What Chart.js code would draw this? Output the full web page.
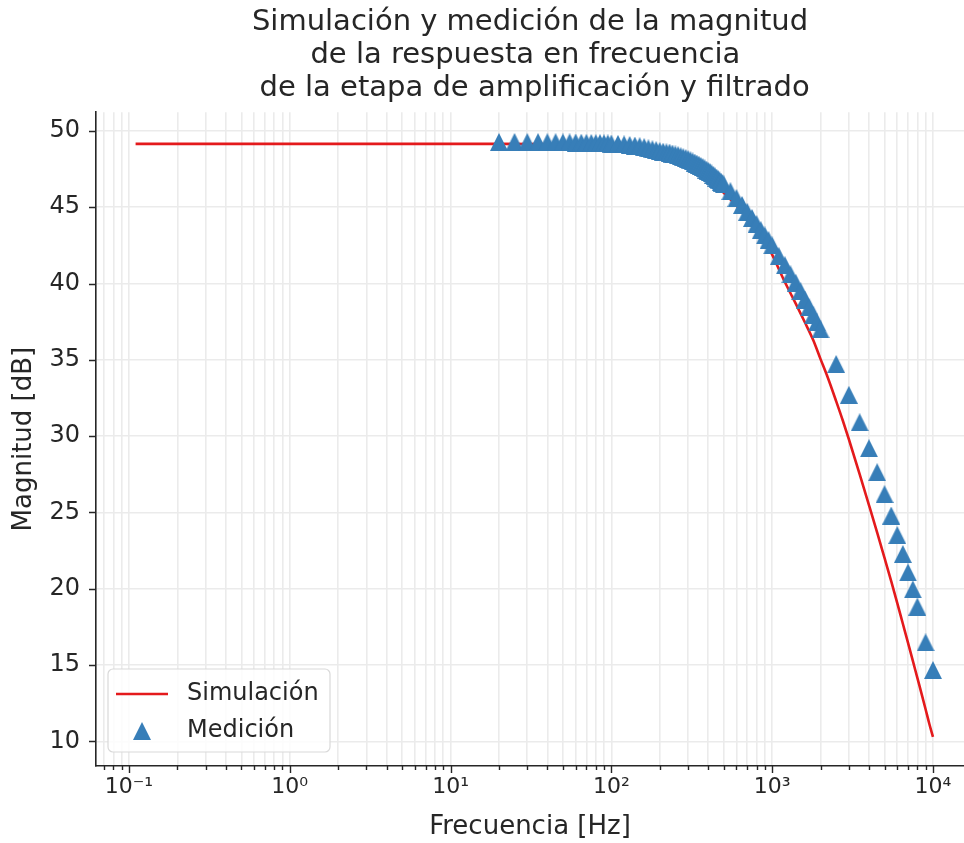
<!DOCTYPE html>
<html>
<head>
<meta charset="utf-8">
<script src="https://cdn.jsdelivr.net/npm/chart.js@4.4.0/dist/chart.umd.min.js"></script>
<style>
    html, body { margin: 0; padding: 0; background: #fff; }
</style>
</head>
<body>
<canvas id="bodeChart" width="964" height="843"></canvas>
<script>
// Simulación: frecuencia [Hz] y magnitud [dB]
const simFreq = [0.11, 0.2, 0.5, 1, 2, 5, 10, 20, 50, 100, 150, 200, 300, 400, 500, 600, 700, 800, 900, 1000,
    1200, 1400, 1600, 1800, 2000, 2200, 2500, 2750, 3000, 3500, 4000, 4500, 5000, 5500, 6000, 6500, 7000, 7500, 8000, 8500, 9000, 9500, 10000];
const simMag = [49.15, 49.15, 49.15, 49.15, 49.15, 49.15, 49.15, 49.15, 49.12, 49.0, 48.78, 48.5, 47.75, 46.85, 45.95, 45.1, 44.3, 43.55, 42.8, 41.9,
    40.1, 38.7, 37.45, 36.3, 35.05, 33.94, 32.3, 31.03, 29.8, 27.52, 25.49, 23.68, 22.02, 20.5, 19.06, 17.71, 16.46, 15.28, 14.16, 13.12, 12.11, 11.14, 10.3];

// Medición: frecuencia [Hz] y magnitud [dB]
const measFreq = [20, 25, 30, 35, 40, 45, 50, 55, 60, 65, 70, 75, 80, 85, 90, 95, 100,
    110, 120, 130, 140, 150, 160, 170, 180, 190, 200, 210, 220, 230, 240, 250, 260, 270, 280, 290, 300,
    310, 320, 330, 340, 350, 360, 370, 380, 390, 400, 410, 420, 430, 440, 450, 460, 470, 480, 490, 500,
    550, 600, 650, 700, 750, 800, 850, 900, 950, 1000,
    1100, 1200, 1300, 1400, 1500, 1600, 1700, 1800, 1900, 2000,
    2500, 3000, 3500, 4000, 4500, 5000, 5500, 6000, 6500, 7000, 7500, 8000, 9000, 10000];
const measMag = [49.28, 49.28, 49.27, 49.27, 49.26, 49.26, 49.25, 49.25, 49.24, 49.23, 49.22, 49.21, 49.20, 49.20, 49.19, 49.18, 49.17,
    49.15, 49.12, 49.08, 49.04, 49.00, 48.94, 48.86, 48.80, 48.74, 48.68, 48.64, 48.60, 48.58, 48.52, 48.46, 48.41, 48.34, 48.28, 48.22, 48.15,
    48.08, 48.00, 47.93, 47.86, 47.79, 47.71, 47.63, 47.55, 47.47, 47.39, 47.31, 47.22, 47.13, 47.04, 46.95, 46.86, 46.77, 46.68, 46.59, 46.50,
    46.05, 45.60, 45.15, 44.70, 44.30, 43.90, 43.50, 43.15, 42.85, 42.50,
    41.80, 41.20, 40.60, 40.05, 39.50, 38.95, 38.45, 37.95, 37.45, 37.00,
    34.73, 32.71, 30.91, 29.21, 27.64, 26.20, 24.80, 23.52, 22.28, 21.07, 19.96, 18.83, 16.49, 14.68];

// Ejes
const xDecades = [-1, 0, 1, 2, 3, 4];
const xTickLabels = ['10⁻¹', '10⁰', '10¹', '10²', '10³', '10⁴'];
const yTicks = [10, 15, 20, 25, 30, 35, 40, 45, 50];

const RED = '#e41a1c';
const BLUE = '#377eb8';
const INK = '#262626';
const GRID = '#ebebeb';

// major + minor ticks of the log axis (1..9 x 10^n)
const xTicks = [0.07, 0.08, 0.09];
xDecades.forEach(p => {
    for (let k = 1; k <= 9; k++) {
        const v = k * Math.pow(10, p);
        if (v <= 10000) xTicks.push(v);
    }
});

function isDecade(v) {
    const l = Math.log10(v);
    return Math.abs(l - Math.round(l)) < 1e-9;
}

// matplotlib-like triangle marker (centre of bounding box)
function makeTriangle(color, w, h) {
    const c = document.createElement('canvas');
    c.width = w; c.height = h;
    const g = c.getContext('2d');
    g.fillStyle = color;
    g.beginPath();
    g.moveTo(w / 2, 0);
    g.lineTo(w, h);
    g.lineTo(0, h);
    g.closePath();
    g.fill();
    return c;
}
const triangle = makeTriangle(BLUE, 18, 18);

// tick marks: long for decades, short for minor ones
const tickMarks = {
    id: 'tickMarks',
    afterDraw(chart) {
        const ctx = chart.ctx;
        const xs = chart.scales.x, ys = chart.scales.y;
        const area = chart.chartArea;
        ctx.save();
        ctx.strokeStyle = INK;
        ctx.lineWidth = 1.4;
        ctx.beginPath();
        xs.ticks.forEach(t => {
            const px = Math.round(xs.getPixelForValue(t.value)) + 0.5;
            const len = isDecade(t.value) ? 7 : 4;
            ctx.moveTo(px, area.bottom);
            ctx.lineTo(px, area.bottom + len);
        });
        ys.ticks.forEach(t => {
            const py = Math.round(ys.getPixelForValue(t.value)) + 0.5;
            ctx.moveTo(area.left - 7, py);
            ctx.lineTo(area.left, py);
        });
        ctx.stroke();
        ctx.restore();
    }
};

// legend box inside the plot, lower left corner
const legendBox = {
    id: 'legendBox',
    afterDraw(chart) {
        const ctx = chart.ctx;
        const area = chart.chartArea;
        const x0 = area.left + 12, y0 = area.bottom - 97, w = 222, h = 83;
        ctx.save();
        ctx.fillStyle = 'rgba(255,255,255,0.85)';
        ctx.strokeStyle = '#d9d9d9';
        ctx.lineWidth = 1.2;
        ctx.beginPath();
        ctx.roundRect(x0, y0, w, h, 5);
        ctx.fill();
        ctx.stroke();

        const sim = chart.data.datasets[1];
        const meas = chart.data.datasets[0];
        ctx.strokeStyle = sim.borderColor;
        ctx.lineWidth = sim.borderWidth;
        ctx.beginPath();
        ctx.moveTo(x0 + 8, y0 + 25);
        ctx.lineTo(x0 + 60, y0 + 25);
        ctx.stroke();
        ctx.drawImage(triangle, x0 + 34 - 9, y0 + 62 - 9);

        ctx.fillStyle = INK;
        ctx.font = '24px "DejaVu Sans"';
        ctx.textBaseline = 'middle';
        ctx.fillText(sim.label, x0 + 79, y0 + 25);
        ctx.fillText(meas.label, x0 + 79, y0 + 62);
        ctx.restore();
    }
};

const ctx = document.getElementById('bodeChart').getContext('2d');
const bodeChart = new Chart(ctx, {
    type: 'line',
    data: {
        datasets: [{
            label: 'Medición',
            data: measFreq.map((f, i) => ({ x: f, y: measMag[i] })),
            showLine: false,
            pointStyle: triangle,
            pointRadius: 9,
            pointHoverRadius: 9,
            backgroundColor: BLUE,
            borderColor: BLUE,
            order: 0
        }, {
            label: 'Simulación',
            data: simFreq.map((f, i) => ({ x: f, y: simMag[i] })),
            borderColor: RED,
            borderWidth: 2.6,
            pointRadius: 0,
            fill: false,
            cubicInterpolationMode: 'monotone',
            order: 1
        }]
    },
    options: {
        responsive: false,
        animation: false,
        events: [],
        layout: { padding: 0, autoPadding: false },
        plugins: {
            legend: { display: false },
            tooltip: { enabled: false },
            title: {
                display: true,
                fullSize: false,
                text: ['Simulación y medición de la magnitud', 'de la respuesta en frecuencia ', ' de la etapa de amplificación y filtrado'],
                color: INK,
                font: { family: 'DejaVu Sans', size: 29, weight: 'normal', lineHeight: 1.14 },
                padding: { top: 6, bottom: 7 }
            }
        },
        scales: {
            x: {
                type: 'logarithmic',
                min: 0.0624,
                max: 15600,
                afterBuildTicks: scale => { scale.ticks = xTicks.map(v => ({ value: v })); },
                afterFit: scale => {
                    scale.height = 77;
                    scale.paddingLeft = 0;
                    scale.paddingRight = 0;
                },
                ticks: {
                    autoSkip: false,
                    maxRotation: 0,
                    padding: 8,
                    color: INK,
                    font: { family: 'DejaVu Sans', size: 22 },
                    callback: v => isDecade(v) ? xTickLabels[xDecades.indexOf(Math.round(Math.log10(v)))] : ''
                },
                grid: { color: GRID, lineWidth: 1.6, drawTicks: false },
                border: { display: true, color: INK, width: 1.6 },
                title: {
                    display: true,
                    text: 'Frecuencia [Hz]',
                    color: INK,
                    font: { family: 'DejaVu Sans', size: 26, lineHeight: 1.2 },
                    padding: { top: 0, bottom: 0 }
                }
            },
            y: {
                min: 8.39,
                max: 51.23,
                afterBuildTicks: scale => { scale.ticks = yTicks.map(v => ({ value: v })); },
                afterFit: scale => { scale.width = 96; },
                ticks: {
                    padding: 16,
                    color: INK,
                    font: { family: 'DejaVu Sans', size: 24 }
                },
                grid: { color: GRID, lineWidth: 1.6, drawTicks: false },
                border: { display: true, color: INK, width: 1.6 },
                title: {
                    display: true,
                    text: 'Magnitud [dB]',
                    color: INK,
                    font: { family: 'DejaVu Sans', size: 26, lineHeight: 1.2 },
                    padding: { top: 9, bottom: 0 }
                }
            }
        }
    },
    plugins: [tickMarks, legendBox]
});
</script>
</body>
</html>
